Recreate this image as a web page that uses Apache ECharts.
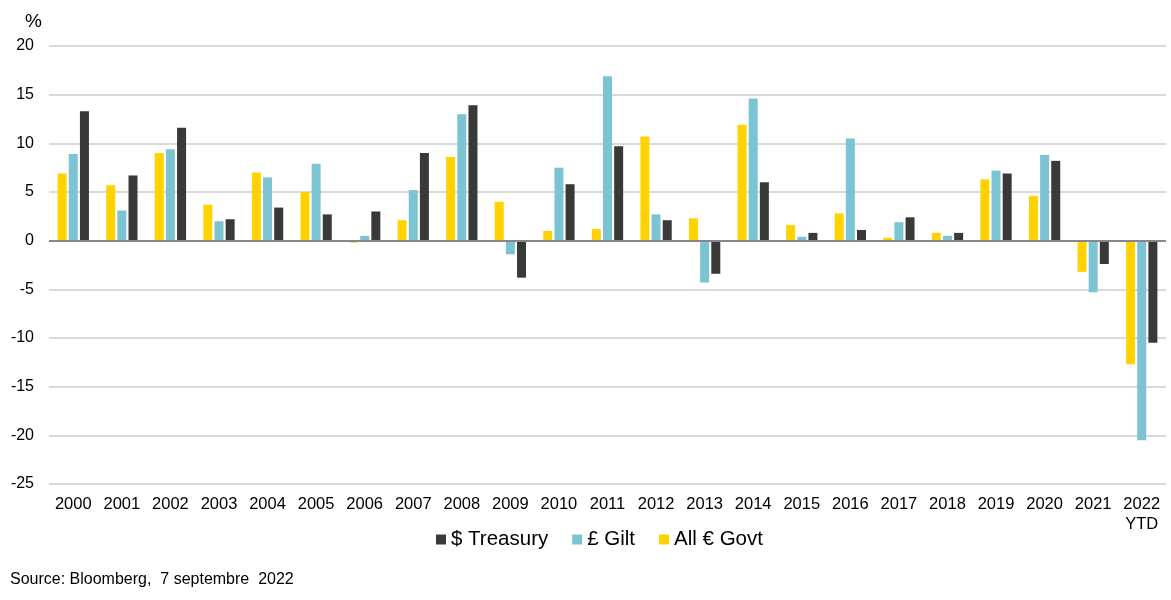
<!DOCTYPE html>
<html>
<head>
<meta charset="utf-8">
<script src="https://cdn.jsdelivr.net/npm/echarts@6/dist/echarts.min.js"></script>
<style>
  html, body { margin: 0; padding: 0; background: #fff; }
  #main { width: 1171px; height: 600px; }
</style>
</head>
<body>
<div id="main"></div>
<script>
// années (catégories)
var years = ["2000","2001","2002","2003","2004","2005","2006","2007","2008","2009","2010",
  "2011","2012","2013","2014","2015","2016","2017","2018","2019","2020","2021","2022\nYTD"];

// rendements annuels, %
var euroGovt = [6.9, 5.7, 9.0, 3.7, 7.0, 5.0, -0.2, 2.1, 8.6, 4.0, 1.0,
  1.2, 10.7, 2.3, 11.9, 1.6, 2.8, 0.3, 0.8, 6.3, 4.6, -3.2, -12.7];
var gilt = [8.9, 3.1, 9.4, 2.0, 6.5, 7.9, 0.5, 5.2, 13.0, -1.4, 7.5,
  16.9, 2.7, -4.3, 14.6, 0.4, 10.5, 1.9, 0.5, 7.2, 8.8, -5.3, -20.5];
var treasury = [13.3, 6.7, 11.6, 2.2, 3.4, 2.7, 3.0, 9.0, 13.9, -3.8, 5.8,
  9.7, 2.1, -3.4, 6.0, 0.8, 1.1, 2.4, 0.8, 6.9, 8.2, -2.4, -10.5];

var yTicks = { min: -25, max: 20, step: 5 };

var chart = echarts.init(document.getElementById("main"));
var font = "Arial, 'Liberation Sans', sans-serif";

chart.setOption({
  animation: false,
  textStyle: { fontFamily: font },
  grid: { left: 49, right: 5, top: 46, bottom: 116, containLabel: false },
  legend: {
    data: ["$ Treasury", "£ Gilt", "All € Govt"],
    left: 431, top: 524,
    itemWidth: 10, itemHeight: 10, itemGap: 24,
    icon: "rect",
    textStyle: { fontSize: 20.5, color: "#000", fontFamily: font }
  },
  graphic: [
    { type: "text", left: 25, top: 12, style: { text: "%", fontSize: 19, fill: "#000", fontFamily: font } },
    { type: "text", left: 10, top: 572, style: { text: "Source: Bloomberg,  7 septembre  2022", fontSize: 16, fill: "#000", fontFamily: font } }
  ],
  xAxis: {
    type: "category",
    data: years,
    axisLine: { show: false, onZero: false },
    axisTick: { show: false },
    axisLabel: { interval: 0, fontSize: 16.5, color: "#000", margin: 10, lineHeight: 20, verticalAlign: "top" }
  },
  yAxis: {
    type: "value",
    min: yTicks.min, max: yTicks.max, interval: yTicks.step,
    axisLine: { show: false },
    axisTick: { show: false },
    axisLabel: { fontSize: 16, color: "#000", margin: 15 },
    splitLine: { lineStyle: { color: "#d9d9d9", width: 2 } }
  },
  series: [
    {
      name: "All € Govt", type: "bar", data: euroGovt,
      barWidth: 9, barGap: "24%", barCategoryGap: "36%",
      itemStyle: { color: "#ffd200" },
      markLine: {
        silent: true, symbol: "none", label: { show: false },
        lineStyle: { color: "#878787", width: 2, type: "solid" },
        data: [{ yAxis: 0 }]
      }
    },
    { name: "£ Gilt", type: "bar", data: gilt, barWidth: 9, barGap: "24%", itemStyle: { color: "#7cc4d3" } },
    { name: "$ Treasury", type: "bar", data: treasury, barWidth: 9, barGap: "24%", itemStyle: { color: "#393a37" } }
  ]
});
</script>
</body>
</html>
